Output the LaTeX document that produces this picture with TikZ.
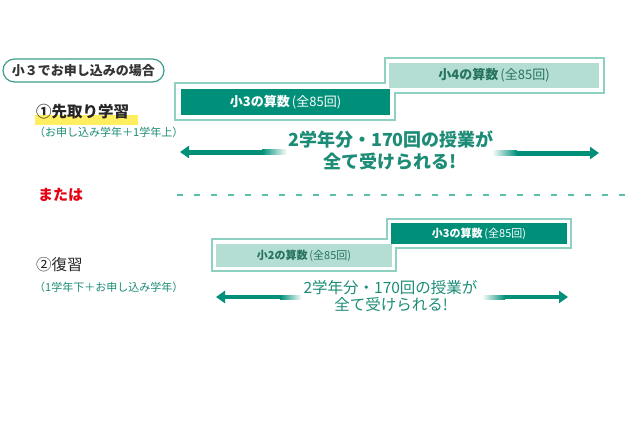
\documentclass[tikz,border=0pt]{standalone}
\usepackage{fontspec}
\setmainfont{Noto Sans CJK JP}
\usepackage{tikz}
\usetikzlibrary{arrows.meta}

\begin{document}
\begin{tikzpicture}[x=1pt,y=-1pt]

% Colori
\definecolor{colDark}{HTML}{009079}
\definecolor{colLight}{HTML}{B4DDD3}
\definecolor{colFrame}{HTML}{8ED0C2}
\definecolor{colText}{HTML}{1C8C76}
\definecolor{colBoxTxt}{HTML}{26735F}
\definecolor{colRed}{HTML}{E60012}
\definecolor{colMark}{HTML}{FFEC45}
\definecolor{colDash}{HTML}{5CBFAE}

\tikzset{
  darkbox/.style={fill=colDark, text=white, inner sep=0pt, font=\fontsize{13pt}{14pt}\selectfont},
  lightbox/.style={fill=colLight, text=colBoxTxt, inner sep=0pt, font=\fontsize{13pt}{14pt}\selectfont},
  frame/.style={draw=colFrame, line width=1.4pt, fill=white},
  arrowline/.style={draw=colDark, line width=5pt, -{Triangle[length=9pt,width=12pt]}},
}

\useasboundingbox[fill=white] (0,0) rectangle (640,426);

% Titolo
\node[draw=colText!85, line width=1.2pt, rounded corners=11.5pt, minimum width=161pt,
      minimum height=23pt, inner sep=0pt, text=black!80,
      font=\fontsize{13pt}{15pt}\selectfont\bfseries]
      (caso) at (83.5,70.5) {小３でお申し込みの場合};

% Caso 1: in anticipo
\fill[colMark, opacity=0.85] (35,115) rectangle (138,125);
\node[anchor=west, inner sep=0pt, font=\fontsize{15.5pt}{17pt}\selectfont\bfseries, text=black!85]
      (tit1) at (36,112) {①先取り学習};
\node[anchor=west, inner sep=0pt, font=\fontsize{11pt}{13pt}\selectfont, text=colText]
      (sub1) at (34,132) {（お申し込み学年＋1学年上）};

\path[frame] (175,83) -- (385,83) -- (385,58) -- (604,58) -- (604,93)
  -- (395,93) -- (395,120) -- (175,120) -- cycle;
\node[darkbox, minimum width=209pt, minimum height=26pt] (box13) at (285.5,102)
      {\textbf{小3の算数}\,(全85回)};
\node[lightbox, minimum width=210pt, minimum height=25pt] (box14) at (494,75.5)
      {\textbf{小4の算数}\,(全85回)};

\node[font=\fontsize{18pt}{20pt}\selectfont\bfseries, text=colText, inner sep=0pt]
      (msg1a) at (391,140) {2学年分・170回の授業が};
\node[font=\fontsize{18pt}{20pt}\selectfont\bfseries, text=colText, inner sep=0pt]
      (msg1b) at (390,162) {全て受けられる!};

\coordinate (a1l) at (180,152);
\coordinate (a1m) at (262,152);
\coordinate (a1r) at (599,153);
\coordinate (a1q) at (517,153);
\draw[arrowline] (a1m) -- (a1l);
\shade[left color=colDark, right color=white] (262,149.5) rectangle (287,154.5);
\draw[arrowline] (a1q) -- (a1r);
\shade[left color=white, right color=colDark] (492,150.5) rectangle (517,155.5);

% Oppure
\node[anchor=west, inner sep=0pt, font=\fontsize{15pt}{17pt}\selectfont\bfseries, text=colRed]
      (oppure) at (38,195) {または};
\coordinate (dl) at (177,195);
\coordinate (dr) at (626,195);
\draw[colDash, line width=1.5pt, dash pattern=on 6pt off 11pt] (dl) -- (dr);

% Caso 2: ripasso
\node[anchor=west, inner sep=0pt, font=\fontsize{15.5pt}{17pt}\selectfont, text=black!85]
      (tit2) at (36,265) {②復習};
\node[anchor=west, inner sep=0pt, font=\fontsize{11pt}{13pt}\selectfont, text=colText]
      (sub2) at (34,287) {（1学年下＋お申し込み学年）};

\path[frame] (212,239) -- (387,239) -- (387,219) -- (571,219) -- (571,248)
  -- (396,248) -- (396,271) -- (212,271) -- cycle;
\node[lightbox, minimum width=176pt, minimum height=23pt,
      font=\fontsize{11pt}{13pt}\selectfont] (box22) at (304,255.5)
      {\textbf{小2の算数}\,(全85回)};
\node[darkbox, minimum width=176pt, minimum height=21pt,
      font=\fontsize{11pt}{13pt}\selectfont] (box23) at (479,233.5)
      {\textbf{小3の算数}\,(全85回)};

\node[font=\fontsize{15.5pt}{17pt}\selectfont, text=colText, inner sep=0pt]
      (msg2a) at (390.5,288) {2学年分・170回の授業が};
\node[font=\fontsize{15.5pt}{17pt}\selectfont, text=colText, inner sep=0pt]
      (msg2b) at (391,305) {全て受けられる!};

\coordinate (a2l) at (216,297);
\coordinate (a2m) at (280,297);
\coordinate (a2r) at (568,297);
\coordinate (a2q) at (505,297);
\draw[arrowline, line width=4pt] (a2m) -- (a2l);
\shade[left color=colDark, right color=white] (280,295) rectangle (302,299);
\draw[arrowline, line width=4pt] (a2q) -- (a2r);
\shade[left color=white, right color=colDark] (482,295) rectangle (505,299);

\end{tikzpicture}
\end{document}
